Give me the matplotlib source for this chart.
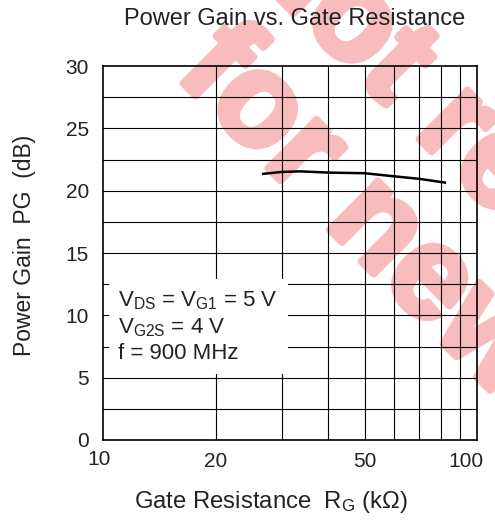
import matplotlib
matplotlib.use('Agg')
import matplotlib.pyplot as plt
import matplotlib.transforms as mtransforms
import matplotlib.patheffects as pe
from matplotlib.ticker import FixedLocator, NullLocator, NullFormatter

plt.rcParams['font.family'] = ['Liberation Sans', 'DejaVu Sans']
plt.rcParams['mathtext.fontset'] = 'custom'
plt.rcParams['mathtext.rm'] = 'Liberation Sans'
plt.rcParams['mathtext.it'] = 'Liberation Sans'

# data
rg = [26.8, 30, 33.6, 40, 50, 60, 70, 82]
pg = [21.35, 21.5, 21.55, 21.45, 21.4, 21.15, 20.95, 20.65]

x_ticks = [10, 20, 50, 100]
x_grid = [20, 30, 40, 50, 60, 70, 80, 90]
y_ticks = [0, 5, 10, 15, 20, 25, 30]
y_grid = [2.5 * i for i in range(1, 12)]

txt = '#222222'

fig = plt.figure(figsize=(4.95, 5.26), dpi=100)
ax = fig.add_axes([0.208, 0.1635, 0.756, 0.711])
ax.patch.set_alpha(0)

ax.set_xscale('log')
ax.set_xlim(10, 100)
ax.set_ylim(0, 30)

for x in x_grid:
    ax.axvline(x, color='black', lw=0.8, zorder=1)
for y in y_grid:
    ax.axhline(y, color='black', lw=0.8, zorder=1)

ax.plot(rg, pg, color='black', lw=1.8, zorder=3)

ax.xaxis.set_major_locator(FixedLocator(x_ticks))
ax.xaxis.set_minor_locator(NullLocator())
ax.xaxis.set_minor_formatter(NullFormatter())
ax.set_xticklabels([str(v) for v in x_ticks])
ax.set_yticks(y_ticks)
ax.tick_params(length=0, labelsize=15, colors=txt)
ax.tick_params(axis='x', pad=9)
ax.tick_params(axis='y', pad=10)
for s in ax.spines.values():
    s.set_linewidth(1.2)

# nudge the end labels like the original
labels = ax.get_xticklabels()
labels[0].set_transform(labels[0].get_transform() +
                        mtransforms.ScaledTranslation(-4 / 100, 2 / 100, fig.dpi_scale_trans))
labels[-1].set_transform(labels[-1].get_transform() +
                         mtransforms.ScaledTranslation(-11 / 100, 0, fig.dpi_scale_trans))

ax.text(11.0, 9.1,
        'V$_{\\mathrm{DS}}$ = V$_{\\mathrm{G1}}$ = 5 V\n'
        'V$_{\\mathrm{G2S}}$ = 4 V\n'
        'f = 900 MHz',
        fontsize=16, color=txt, va='center', ha='left', linespacing=1.25,
        bbox=dict(facecolor='white', edgecolor='none', pad=7), zorder=4)

fig.text(0.596, 0.964, 'Power Gain vs. Gate Resistance', fontsize=17,
         color=txt, ha='center', va='center')
fig.text(0.05, 0.534, 'Power Gain  PG  (dB)', fontsize=16.5, color=txt,
         rotation=90, ha='center', va='center')
fig.text(0.548, 0.046, 'Gate Resistance  R$_{\\mathrm{G}}$ (k\u03a9)', fontsize=17.2,
         color=txt, ha='center', va='center')

# watermark, behind the grid
pink = '#f9bcbd'
wm = dict(fontsize=94, fontweight='bold', color=pink,
          rotation=-45, rotation_mode='anchor', ha='left', va='baseline',
          zorder=-1, path_effects=[pe.withStroke(linewidth=5, foreground=pink)])
fig.text(0.471, 1.089, 'Not recommended', **wm)
fig.text(0.352, 0.858, 'for new design', **wm)

fig.savefig('out.png', dpi=100)
